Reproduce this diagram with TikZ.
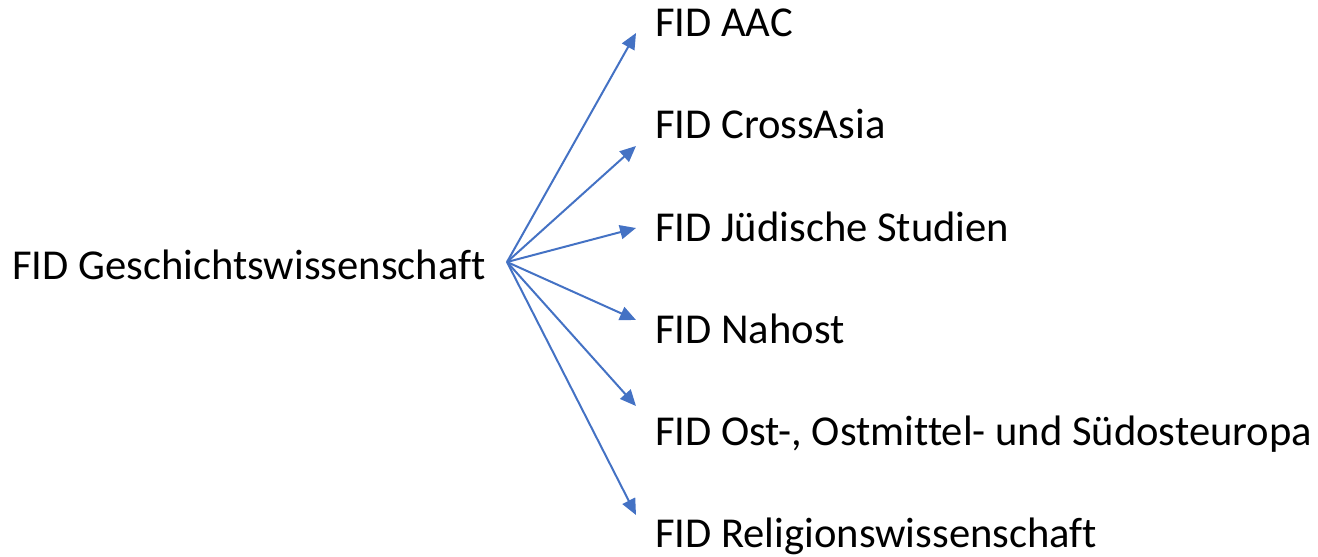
\documentclass[tikz,border=0pt]{standalone}
\usepackage{fontspec}
\setmainfont[Ligatures=CommonOff]{Carlito}
\usetikzlibrary{arrows.meta}

\definecolor{fidblue}{HTML}{4472C4}

\begin{document}
\begin{tikzpicture}[x=1pt,y=-1pt,
		lbl/.style={anchor=base west,inner sep=0pt,font=\fontsize{42.6}{50}\selectfont},
		fidarrow/.style={draw=fidblue,line width=2pt,-{Triangle[length=16pt,width=14pt]}}]
			\useasboundingbox (0,0) rectangle (1318,557);
			% source
			\node[lbl] (gw) at (12,279) {FID Geschichtswissenschaft};
			\coordinate (hub) at (507,262);
			% targets
			\node[lbl] (aac) at (655,36) {FID AAC};
			\node[lbl] (ca) at (655,138) {FID CrossAsia};
			\node[lbl] (js) at (655,241) {FID Jüdische Studien};
			\node[lbl] (nh) at (655,343) {FID Nahost};
			\node[lbl] (oe) at (655,445) {FID Ost-, Ostmittel- und Südosteuropa};
			\node[lbl] (rw) at (655,547) {FID Religionswissenschaft};
			% arrow tips
			\coordinate (t1) at (636,33);
			\coordinate (t2) at (636,146);
			\coordinate (t3) at (636,228);
			\coordinate (t4) at (636,320);
			\coordinate (t5) at (636,406);
			\coordinate (t6) at (636,515);
			\foreach \t in {t1,t2,t3,t4,t5,t6}
				\draw[fidarrow] (hub) -- (\t);
		\end{tikzpicture}
\end{document}
